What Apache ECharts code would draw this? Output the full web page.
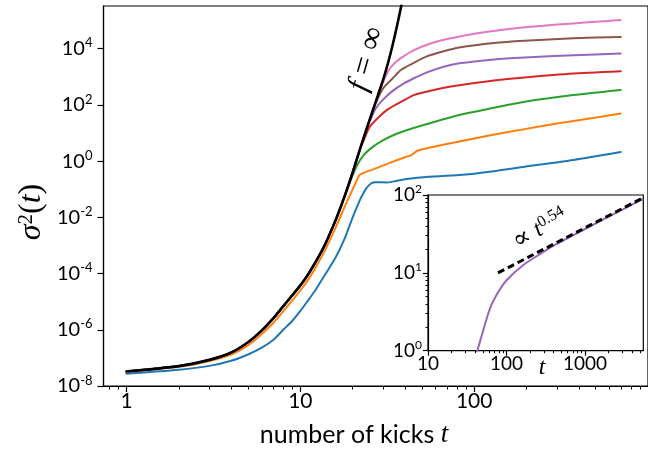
<!DOCTYPE html>
<html><head><meta charset="utf-8">
<script src="https://cdn.jsdelivr.net/npm/echarts@6/dist/echarts.min.js"></script>
<style>html,body{margin:0;padding:0;background:#fff}#c{width:648px;height:451px}</style>
</head><body><div id="c"></div>
<script>
// ---- main panel data (t = number of kicks, sigma^2) ----
const blackT = [1,2,3,4,5,6,7,8,9,10,11,12,13,14,16,18,20,22,24,26,28,30,32,34,36,38,40];
const blackV = [3.3e-8,5.1e-8,8.5e-8,1.55e-7,3.6e-7,9.5e-7,2.6e-6,7.1e-6,1.7e-5,3.8e-5,8.7e-5,2.1e-4,5.0e-4,1.23e-3,8.3e-3,5.8e-2,0.40,2.6,13.5,59,229,832,3236,14125,66069,316228,1.4e6];

const blueT = [1,2,3,4,5,6,7,8,9,10,11,12,13,14,16,18,20,22,23,24,25.5,27,31.6,36,43,51,82,130,195,372,697];
const blueV = [2.75e-8,3.8e-8,5.2e-8,7.9e-8,1.32e-7,2.3e-7,4.4e-7,1.02e-6,2.1e-6,4.7e-6,1.05e-5,2.2e-5,4.8e-5,1.0e-4,3.9e-4,1.8e-3,1.0e-2,4.1e-2,7.1e-2,0.11,0.16,0.178,0.174,0.2,0.24,0.27,0.32,0.44,0.63,1.1,2.1];

const orangeT = [1,2,3,4,5,6,7,8,9,10,11,12,13,14,16,18,20,21.9,23,26,33,40,43,47,55,82,126,195,300,462,697];
const orangeV = [3.2e-8,4.8e-8,7.8e-8,1.32e-7,2.8e-7,7.1e-7,1.78e-6,4.7e-6,1.12e-5,2.5e-5,5.6e-5,1.32e-4,3.2e-4,7.6e-4,4.5e-3,2.4e-2,0.10,0.32,0.38,0.50,0.89,1.38,1.58,2.3,3.0,5.0,8.5,13.8,22,33,50];

const greenT = [1,2,3,4,5,6,7,8,9,10,11,12,13,14,16,18,19,21,23,26,30,35,43,55,82,130,195,372,697];
const greenV = [3.3e-8,5.1e-8,8.5e-8,1.55e-7,3.6e-7,9.5e-7,2.6e-6,7.1e-6,1.7e-5,3.8e-5,8.7e-5,2.1e-4,5.0e-4,1.23e-3,8.3e-3,5.8e-2,0.14,0.63,1.58,3.16,5.6,8.9,14,22,44,79,129,224,339];

const redT = [1,2,3,4,5,6,7,8,9,10,11,12,13,14,16,18,20,22,23,25,28,32,39,45,53,66,82,130,195,372,697];
const redV = [3.3e-8,5.1e-8,8.5e-8,1.55e-7,3.6e-7,9.5e-7,2.6e-6,7.1e-6,1.7e-5,3.8e-5,8.7e-5,2.1e-4,5.0e-4,1.23e-3,8.3e-3,5.8e-2,0.40,2.6,5.0,16,35,71,141,224,295,398,501,741,955,1318,1585];

const purpleT = [1,2,3,4,5,6,7,8,9,10,11,12,13,14,16,18,20,22,24,25,27,30,34,39,45,53,66,82,130,195,372,697];
const purpleV = [3.3e-8,5.1e-8,8.5e-8,1.55e-7,3.6e-7,9.5e-7,2.6e-6,7.1e-6,1.7e-5,3.8e-5,8.7e-5,2.1e-4,5.0e-4,1.23e-3,8.3e-3,5.8e-2,0.40,2.6,13.5,25,71,158,316,562,891,1413,2239,3020,4169,4898,5888,6761];

const brownT = [1,2,3,4,5,6,7,8,9,10,11,12,13,14,16,18,20,22,24,26,27.5,30,34,38,45,53,66,82,130,195,372,697];
const brownV = [3.3e-8,5.1e-8,8.5e-8,1.55e-7,3.6e-7,9.5e-7,2.6e-6,7.1e-6,1.7e-5,3.8e-5,8.7e-5,2.1e-4,5.0e-4,1.23e-3,8.3e-3,5.8e-2,0.40,2.6,13.5,59,141,398,891,1778,3162,5248,7943,10965,15849,19055,23442,26303];

const pinkT = [1,2,3,4,5,6,7,8,9,10,11,12,13,14,16,18,20,22,24,26,28,29.5,32,35,39,45,55,66,82,102,150,195,300,372,500,697];
const pinkV = [3.3e-8,5.1e-8,8.5e-8,1.55e-7,3.6e-7,9.5e-7,2.6e-6,7.1e-6,1.7e-5,3.8e-5,8.7e-5,2.1e-4,5.0e-4,1.23e-3,8.3e-3,5.8e-2,0.40,2.6,13.5,59,229,525,1585,3162,5248,8913,14791,20417,26915,34674,47863,57544,72444,79433,91201,104713];

// ---- inset data ----
const insetT = [40,42.5,50.7,61.7,78.9,101,164,267,437,1160,3090,5500];
const insetV = [0.81,1,1.84,3.5,5.7,8.1,12.6,17.4,23.5,39.5,66,89];
const fitT = [78,5500];
const fitV = [10,92];

// ---- ticks ----
const mainXTicks = [1,10,100];
const mainXMinor = [0.8,0.9,2,3,4,5,6,7,8,9,20,30,40,50,60,70,80,90,200,300,400,500,600,700,800,900];
const mainYTicks = [1e-8,1e-6,1e-4,1e-2,1,1e2,1e4];
const insetXTicks = [10,100,1000];
const insetXMinor = [20,30,40,50,60,70,80,90,200,300,400,500,600,700,800,900,2000,3000,4000,5000];
const insetYTicks = [1,10,100];
const insetYMinor = [2,3,4,5,6,7,8,9,20,30,40,50,60,70,80,90];

const L = Math.log10;
const sans = 'Lato, "Open Sans", sans-serif';
const serif = '"Liberation Serif", "DejaVu Serif", serif';
const pts = (t, v) => t.map((x, i) => [L(x), L(v[i])]);
const supRich = (fs, ss) => ({
  b: {fontSize: fs, fontFamily: sans, color: '#000', lineHeight: fs + 4},
  s: {fontSize: ss, fontFamily: sans, color: '#000', verticalAlign: 'top', lineHeight: ss + 2}
});
const pow10 = v => '{b|10}{s|' + Math.round(v) + '}';
const axLine = {show: true, onZero: false, lineStyle: {color: '#000', width: 1.2}};
const noLine = {show: false, onZero: false};
const axBase = {type: 'value', splitLine: {show: false}, axisLine: axLine};

const main = (name, t, v, color, w, z) => ({
  name, type: 'line', xAxisIndex: 0, yAxisIndex: 0, data: pts(t, v),
  showSymbol: false, smooth: 0.25, clip: true, z,
  lineStyle: {color, width: w, join: 'round', cap: 'round'}, itemStyle: {color}, silent: true
});

const chart = echarts.init(document.getElementById('c'), null, {renderer: 'canvas'});
chart.setOption({
  animation: false,
  backgroundColor: '#fff',
  grid: [
    {left: 103.5, top: 6, right: -12, bottom: 65, show: true, borderColor: '#000', borderWidth: 1.2, backgroundColor: 'transparent'},
    {left: 428, top: 195, right: 4.7, bottom: 100.3, show: true, borderColor: '#000', borderWidth: 1.2, backgroundColor: '#fff', z: 5}
  ],
  xAxis: [
    Object.assign({}, axBase, {gridIndex: 0, position: 'bottom', min: L(0.737), max: 3,
      axisTick: {show: true, customValues: mainXTicks.map(L), length: 6, lineStyle: {color: '#000', width: 1.2}},
      axisLabel: {customValues: mainXTicks.map(L), formatter: v => String(Math.round(Math.pow(10, v))), fontSize: 21, fontFamily: sans, color: '#000', margin: 5}}),
    Object.assign({}, axBase, {gridIndex: 0, position: 'bottom', min: L(0.737), max: 3,
      axisLine: noLine,
      axisTick: {show: true, customValues: mainXMinor.map(L), length: 3.5, lineStyle: {color: '#000', width: 1}},
      axisLabel: {show: false}}),
    Object.assign({}, axBase, {gridIndex: 1, position: 'bottom', min: 1, max: 3.743, z: 6,
      axisTick: {show: true, customValues: insetXTicks.map(L), length: 5, lineStyle: {color: '#000', width: 1.2}},
      axisLabel: {customValues: insetXTicks.map(L), formatter: v => String(Math.round(Math.pow(10, v))), fontSize: 19, fontFamily: sans, color: '#000', margin: 4}}),
    Object.assign({}, axBase, {gridIndex: 1, position: 'bottom', min: 1, max: 3.743, z: 6,
      axisLine: noLine,
      axisTick: {show: true, customValues: insetXMinor.map(L), length: 2.5, lineStyle: {color: '#000', width: 1}},
      axisLabel: {show: false}})
  ],
  yAxis: [
    Object.assign({}, axBase, {gridIndex: 0, position: 'left', min: -8, max: 5.52,
      axisTick: {show: true, customValues: mainYTicks.map(L), length: 6, lineStyle: {color: '#000', width: 1.2}},
      axisLabel: {customValues: mainYTicks.map(L), formatter: pow10, margin: 11, rich: supRich(20, 13)}}),
    Object.assign({}, axBase, {gridIndex: 1, position: 'left', min: 0, max: 2, z: 6,
      axisTick: {show: true, customValues: insetYTicks.map(L), length: 5, lineStyle: {color: '#000', width: 1.2}},
      axisLabel: {customValues: insetYTicks.map(L), formatter: pow10, margin: 6, rich: supRich(19, 12)}}),
    Object.assign({}, axBase, {gridIndex: 1, position: 'left', min: 0, max: 2, z: 6,
      axisLine: noLine,
      axisTick: {show: true, customValues: insetYMinor.map(L), length: 2.5, lineStyle: {color: '#000', width: 1}},
      axisLabel: {show: false}})
  ],
  series: [
    main('blue', blueT, blueV, '#1f77b4', 2, 2),
    main('orange', orangeT, orangeV, '#ff7f0e', 2, 2),
    main('green', greenT, greenV, '#2ca02c', 2, 2),
    main('red', redT, redV, '#d62728', 2, 2),
    main('purple', purpleT, purpleV, '#9467bd', 2, 2),
    main('brown', brownT, brownV, '#8c564b', 2, 2),
    main('pink', pinkT, pinkV, '#e377c2', 2, 2),
    main('black', blackT, blackV, '#000', 2.6, 3),
    {type: 'line', xAxisIndex: 2, yAxisIndex: 1, data: pts(insetT, insetV), showSymbol: false, smooth: 0.25, clip: true, z: 7,
      lineStyle: {color: '#9467bd', width: 2, join: 'round'}, silent: true},
    {type: 'line', xAxisIndex: 2, yAxisIndex: 1, data: pts(fitT, fitV), showSymbol: false, clip: true, z: 8,
      lineStyle: {color: '#000', width: 3, type: [7, 4]}, silent: true}
  ],
  graphic: [
    {type: 'text', x: 32, y: 212, rotation: Math.PI / 2, z: 10,
      style: {text: '{i|σ}{s|2}{r|(}{i|t}{r|)}', align: 'center', verticalAlign: 'middle',
        rich: {i: {fontFamily: serif, fontStyle: 'italic', fontSize: 32, fill: '#000'},
               r: {fontFamily: serif, fontSize: 32, fill: '#000'},
               s: {fontFamily: serif, fontSize: 21, fill: '#000', verticalAlign: 'top'}}}},
    {type: 'text', x: 354, y: 435, z: 10,
      style: {text: '{n|number of kicks }{i|t}', align: 'center', verticalAlign: 'middle',
        rich: {n: {fontFamily: sans, fontSize: 25, fill: '#000'},
               i: {fontFamily: serif, fontStyle: 'italic', fontSize: 27, fill: '#000'}}}},
    {type: 'text', x: 367, y: 59, rotation: 74 * Math.PI / 180, z: 10,
      style: {text: '{i|f}{r| = ∞}', align: 'center', verticalAlign: 'middle',
        rich: {i: {fontFamily: serif, fontStyle: 'italic', fontSize: 30, fill: '#000'},
               r: {fontFamily: serif, fontSize: 32, fill: '#000'}}}},
    {type: 'text', x: 540, y: 229, rotation: 30 * Math.PI / 180, z: 10,
      style: {text: '{r|∝ }{i|t}{s|0.54}', align: 'center', verticalAlign: 'middle',
        rich: {i: {fontFamily: serif, fontStyle: 'italic', fontSize: 24, fill: '#000'},
               r: {fontFamily: serif, fontSize: 26, fill: '#000'},
               s: {fontFamily: serif, fontSize: 16, fill: '#000', verticalAlign: 'top'}}}},
    {type: 'text', x: 542, y: 368, z: 10,
      style: {text: 't', align: 'center', verticalAlign: 'middle', fontFamily: serif, fontStyle: 'italic', fontSize: 24, fill: '#000'}}
  ]
});
</script></body></html>
